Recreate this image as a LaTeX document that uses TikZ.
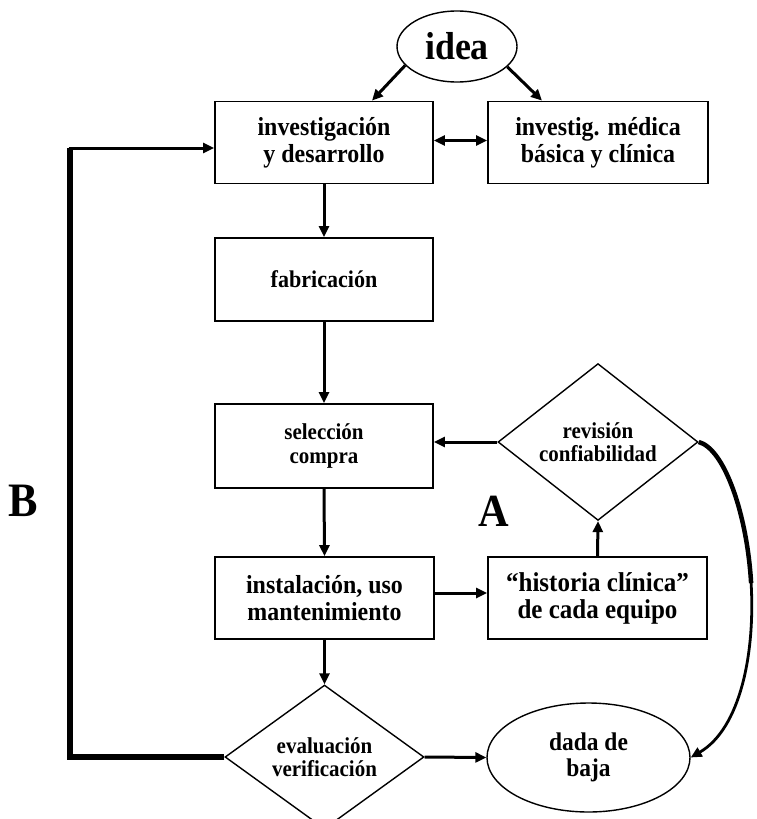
\documentclass[tikz,border=0pt]{standalone}
\usepackage{fontspec}
\setmainfont{Liberation Serif}[FakeStretch=0.92]
\usetikzlibrary{shapes.geometric,arrows.meta,calc}
\begin{document}
\begin{tikzpicture}[x=1pt,y=-1pt,
  boxn/.style={draw, line width=1.8pt, minimum width=218pt, minimum height=82pt, inner sep=0pt, align=center},
  dian/.style={diamond, draw, line width=1.4pt, inner sep=0pt, align=center},
  elln/.style={ellipse, draw, line width=1.4pt, inner sep=0pt, align=center},
  tip/.tip={Triangle[length=11pt,width=10pt]},
  arr/.style={line width=3pt, -tip},
  darr/.style={line width=3pt, tip-tip},
  fs/.style n args={2}{font=\fontsize{#1}{#2}\selectfont\bfseries}
]
\useasboundingbox (0,0) rectangle (756,819);
\fill[white] (0,0) rectangle (756,819);

\node[elln, minimum width=120pt, minimum height=71pt, fs={39}{40}] (idea) at (457,46.5) {idea};
\node[boxn, fs={26}{27}] (inv) at (324,142.5) {investigación\\y desarrollo};
\node[boxn, minimum width=220pt, fs={26}{27}] (med) at (598,142.5) {investig. médica\\básica y clínica};
\node[boxn, minimum height=83pt, fs={24}{25}] (fab) at (324,279.5) {fabricación};
\node[boxn, minimum height=84pt, fs={22.8}{24}] (sel) at (324,446) {selección\\compra};
\node[dian, minimum width=200pt, minimum height=133pt, fs={22.8}{23}] (rev) at (598,442) {revisión\\confiabilidad};
\node[boxn, minimum width=219pt, fs={26}{27}] (ins) at (324.5,598) {instalación, uso\\mantenimiento};
\node[boxn, minimum width=219pt, fs={27.2}{27}] (his) at (597.5,598) {“historia clínica”\\de cada equipo};
\node[dian, minimum width=199pt, minimum height=126pt, fs={22.8}{23}] (eva) at (324.5,757) {evaluación\\verificación};
\node[elln, minimum width=203pt, minimum height=109pt, fs={25.5}{26}] (dada) at (588.5,757.5) {dada de\\baja};
\node[fs={46}{46}] (lA) at (494,511) {A};
\node[fs={48}{48}] (lB) at (23,501) {B};

\draw[arr] (idea.200) -- ($(inv.north)+(48,0)$);
\draw[arr] (idea.-22) -- ($(med.north)+(-56,0)$);
\draw[darr] ($(inv.east)+(0,-2)$) -- ($(med.west)+(0,-2)$);
\draw[arr] (inv.south) -- (fab.north);
\draw[arr] (fab.south) -- (sel.north);
\draw[arr] (sel.south) -- (ins.north);
\draw[arr] (rev.west) -- (rev.west -| sel.east);
\draw[arr] ($(ins.east)+(0,-5)$) -- ($(his.west)+(0,-5)$);
\draw[arr] (his.north) -- (rev.south);
\draw[arr] (ins.south) -- (eva.north);
\draw[arr] (eva.east) -- (dada.west);

\coordinate (bl) at (70,757);
\coordinate (tl) at (70,148);
\draw[line width=5.5pt, line join=miter] (eva.west) -- (bl) -- (tl);
\draw[arr] ($(tl)+(-1.4,0)$) -- ($(inv.west)+(0,5.5)$);

\coordinate (cm) at (751.1,583);
\draw[line width=4.5pt] (rev.east) .. controls (724,448.5) and (747,513) .. (cm);
\draw[line width=2.8pt, -tip] (cm) .. controls (755.25,653) and (740.5,728.5) .. (dada.east);
\end{tikzpicture}
\end{document}
